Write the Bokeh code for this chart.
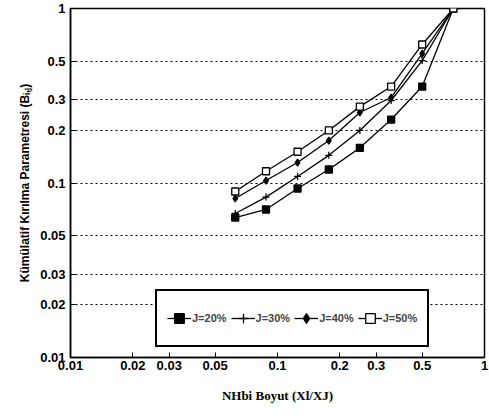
from bokeh.plotting import figure
from bokeh.models import FixedTicker, Legend, LegendItem
from bokeh.embed import file_html
from bokeh.resources import INLINE

# Data
size_ratio = [0.0625, 0.088, 0.125, 0.177, 0.25, 0.354, 0.5, 0.707]
j20 = [0.0634, 0.0705, 0.093, 0.1195, 0.159, 0.231, 0.357, 1.0]
j30 = [0.0669, 0.083, 0.109, 0.144, 0.200, 0.297, 0.503, 1.0]
j40 = [0.0815, 0.1033, 0.131, 0.175, 0.2535, 0.309, 0.552, 1.0]
j50 = [0.0894, 0.1168, 0.151, 0.200, 0.274, 0.357, 0.622, 1.0]
series_labels = ["J=20%", "J=30%", "J=40%", "J=50%"]
tick_values = [0.01, 0.02, 0.03, 0.05, 0.1, 0.2, 0.3, 0.5, 1]
tick_labels = ["0.01", "0.02", "0.03", "0.05", "0.1", "0.2", "0.3", "0.5", "1"]

p = figure(width=489, height=418, x_axis_type="log", y_axis_type="log",
           x_range=(0.01, 1), y_range=(0.01, 1),
           output_backend="svg", toolbar_location=None,
           min_border_left=70, min_border_right=5, min_border_top=8, min_border_bottom=61)

p.outline_line_color = "black"
p.outline_line_width = 1.5
p.outline_line_alpha = 1.0

for ax, lab in ((p.xaxis[0], "NHbi Boyut (Xl/XJ)"), (p.yaxis[0], "Kümülatif Kırılma Parametresi (Bᵢ,ⱼ)")):
    ax.ticker = FixedTicker(ticks=tick_values)
    ax.major_label_overrides = {v: l for v, l in zip(tick_values, tick_labels)}
    ax.minor_tick_line_color = None
    ax.major_tick_in = 5
    ax.major_tick_out = 0
    ax.axis_line_color = "black"
    ax.axis_line_width = 1.5
    ax.major_tick_line_color = "black"
    ax.major_label_text_font = "Liberation Sans"
    ax.major_label_text_font_style = "bold"
    ax.major_label_text_font_size = "13px"
    ax.major_label_text_color = "black"
    ax.axis_label = lab
    ax.axis_label_text_color = "black"
    ax.axis_label_text_font_style = "bold"

p.xaxis.axis_label_text_font = "Liberation Serif"
p.xaxis.axis_label_text_font_size = "13px"
p.xaxis.axis_label_standoff = 15
p.xaxis.major_label_standoff = 3
p.yaxis.axis_label_text_font = "Liberation Sans"
p.yaxis.axis_label_text_font_size = "12px"
p.yaxis.axis_label_standoff = 5
p.yaxis.major_label_standoff = 5

p.xgrid.grid_line_color = None
p.ygrid.grid_line_color = "black"
p.ygrid.grid_line_dash = "2 3"
p.ygrid.grid_line_width = 1

items = []
specs = [
    ("square", "black", 7),
    ("cross", "black", 7),
    ("diamond", "black", 7),
    ("square", "white", 7),
]
for vals, lab, (marker, fill, sz) in zip([j20, j30, j40, j50], series_labels, specs):
    ln = p.line(size_ratio, vals, line_color="black", line_width=1.3)
    mk = p.scatter(size_ratio, vals, marker=marker, size=sz, line_color="black",
                   fill_color=fill, line_width=1.3)
    items.append(LegendItem(label=lab, renderers=[ln, mk]))

legend = Legend(items=items, orientation="horizontal", location=(85, 10),
                border_line_color="black", border_line_width=2, border_line_alpha=1.0,
                label_text_font="Liberation Sans", label_text_font_style="bold",
                label_text_font_size="11px", label_standoff=1,
                glyph_width=24, glyph_height=34, spacing=4, padding=10, margin=0,
                background_fill_alpha=1.0)
p.add_layout(legend, "center")

open("out.html", "w").write(file_html(p, INLINE))
